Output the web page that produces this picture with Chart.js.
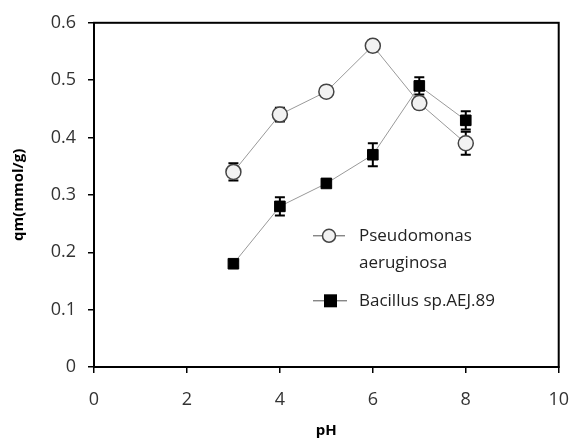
<!DOCTYPE html>
<html>
<head>
<meta charset="utf-8">
<script src="https://cdn.jsdelivr.net/npm/chart.js@4.4.0/dist/chart.umd.min.js"></script>
<style>
  html, body { margin: 0; padding: 0; background: #fff; }
  #wrap { width: 585px; height: 441px; }
</style>
</head>
<body>
<div id="wrap"><canvas id="grafico" width="585" height="441"></canvas></div>
<script>
/* ===== datos ===== */
const PH = [3, 4, 5, 6, 7, 8];
const PSEUDO = [0.34, 0.44, 0.48, 0.56, 0.46, 0.39];
const PSEUDO_ERR = [0.015, 0.012, 0.009, 0.01, 0.01, 0.02];
const BACIL = [0.18, 0.28, 0.32, 0.37, 0.49, 0.43];
const BACIL_ERR = [0.005, 0.016, 0.004, 0.02, 0.015, 0.016];
const X_TICKS = [0, 2, 4, 6, 8, 10];
const Y_TICKS = [0, 0.1, 0.2, 0.3, 0.4, 0.5, 0.6];

const FONT = "'Open Sans', 'Noto Sans', sans-serif";

const puntos = (ys) => PH.map((x, i) => ({ x, y: ys[i] }));

/* ===== barras de error (debajo de los marcadores) ===== */
const errorBars = {
  id: "errorBars",
  beforeDatasetsDraw(chart) {
    const { ctx, scales: { x, y } } = chart;
    const errs = [PSEUDO_ERR, BACIL_ERR];
    ctx.save();
    ctx.strokeStyle = "#000";
    ctx.lineWidth = 2;
    chart.data.datasets.forEach((ds, di) => {
      ds.data.forEach((p, i) => {
        const e = errs[di][i];
        const px = x.getPixelForValue(p.x);
        const top = y.getPixelForValue(p.y + e);
        const bot = y.getPixelForValue(p.y - e);
        ctx.beginPath();
        ctx.moveTo(px, top); ctx.lineTo(px, bot);
        ctx.moveTo(px - 5, top); ctx.lineTo(px + 5, top);
        ctx.moveTo(px - 5, bot); ctx.lineTo(px + 5, bot);
        ctx.stroke();
      });
    });
    ctx.restore();
  }
};

/* ===== marco y leyenda ===== */
const marcoLeyenda = {
  id: "marcoLeyenda",
  beforeDatasetsDraw(chart) {
    const { ctx, chartArea: a } = chart;
    ctx.save();
    ctx.strokeStyle = "#000";
    ctx.lineWidth = 2;
    ctx.strokeRect(a.left, a.top, a.right - a.left, a.bottom - a.top);
    ctx.restore();
  },
  afterDraw(chart) {
    const { ctx, chartArea: a } = chart;
    const x0 = a.left + 219, tx = a.left + 265;
    ctx.save();
    ctx.font = "17px " + FONT;
    ctx.textBaseline = "middle";
    // Pseudomonas
    let yy = a.top + 213;
    ctx.strokeStyle = "#555"; ctx.lineWidth = 1;
    ctx.beginPath(); ctx.moveTo(x0, yy); ctx.lineTo(x0 + 32, yy); ctx.stroke();
    ctx.beginPath(); ctx.arc(x0 + 16, yy, 6.5, 0, Math.PI * 2);
    ctx.fillStyle = "#f2f2f2"; ctx.fill(); ctx.strokeStyle = "#444"; ctx.lineWidth = 1.5; ctx.stroke();
    ctx.fillStyle = "#222";
    ctx.fillText("Pseudomonas", tx, yy);
    ctx.fillText("aeruginosa", tx, yy + 27);
    // Bacillus
    yy = a.top + 278;
    ctx.strokeStyle = "#555"; ctx.lineWidth = 1;
    ctx.beginPath(); ctx.moveTo(x0, yy); ctx.lineTo(x0 + 34, yy); ctx.stroke();
    ctx.fillStyle = "#000";
    ctx.fillRect(x0 + 11, yy - 6.5, 13, 13);
    ctx.fillStyle = "#222";
    ctx.fillText("Bacillus sp.AEJ.89", tx, yy);
    ctx.restore();
  }
};

new Chart(document.getElementById("grafico"), {
  type: "scatter",
  data: {
    datasets: [
      {
        label: "Pseudomonas aeruginosa",
        data: puntos(PSEUDO),
        showLine: true,
        borderColor: "#999",
        borderWidth: 1,
        pointStyle: "circle",
        pointRadius: 7.5,
        pointBackgroundColor: "#f2f2f2",
        pointBorderColor: "#444",
        pointBorderWidth: 1.5
      },
      {
        label: "Bacillus sp.AEJ.89",
        data: puntos(BACIL),
        showLine: true,
        borderColor: "#999",
        borderWidth: 1,
        pointStyle: "rect",
        pointRadius: 7.5,
        pointBackgroundColor: "#000",
        pointBorderColor: "#000",
        pointBorderWidth: 1
      }
    ]
  },
  options: {
    responsive: false,
    animation: false,
    layout: { padding: { left: 0, right: 10, top: 22, bottom: 0 } },
    plugins: { legend: { display: false }, tooltip: { enabled: false } },
    scales: {
      x: {
        type: "linear", min: 0, max: 10,
        afterBuildTicks: (s) => { s.ticks = X_TICKS.map(v => ({ value: v })); },
        afterFit: (s) => { s.height = 74; },
        grid: { drawOnChartArea: false, color: "#000", tickLength: 6, lineWidth: 1.5 },
        border: { display: true, color: "#000", width: 2 },
        ticks: { color: "#333", padding: 16, font: { size: 18, family: FONT } },
        title: { display: true, text: "pH", color: "#000", padding: { top: 0, bottom: 1 },
          font: { size: 15, weight: "bold", family: FONT } }
      },
      y: {
        type: "linear", min: 0, max: 0.6,
        afterBuildTicks: (s) => { s.ticks = Y_TICKS.map(v => ({ value: v })); },
        afterFit: (s) => { s.width = 94; },
        grid: { drawOnChartArea: false, color: "#000", tickLength: 6, lineWidth: 1.5 },
        border: { display: true, color: "#000", width: 2 },
        ticks: { color: "#333", padding: 12, font: { size: 18, family: FONT },
          callback: (v) => String(v) },
        title: { display: true, text: "qm(mmol/g)", color: "#000", padding: { top: 10, bottom: 0 },
          font: { size: 15, weight: "bold", family: FONT } }
      }
    }
  },
  plugins: [marcoLeyenda, errorBars]
});
</script>
</body>
</html>
